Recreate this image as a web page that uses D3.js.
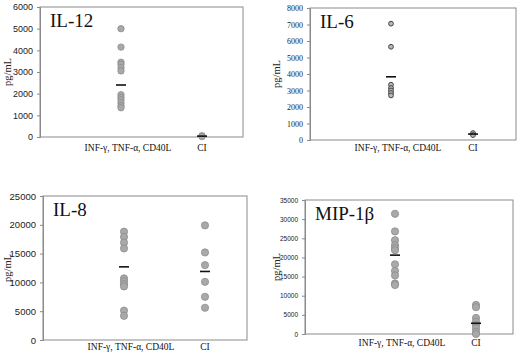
<!DOCTYPE html>
<html>
<head>
<meta charset="utf-8">
<script src="https://cdn.jsdelivr.net/npm/d3@7"></script>
<style>
  body { margin: 0; background: #fff; }
  svg { display: block; }
</style>
</head>
<body>
<svg width="520" height="354"></svg>
<script>
(function () {

  // categories on the x axis (same for every panel)
  var categories = ['INF-γ, TNF-α, CD40L', 'CI']

  // panel titles
  var titles = ['IL-12', 'IL-6', 'IL-8', 'MIP-1β']

  // y axis maxima and tick steps
  var yMax = [6000, 8000, 25000, 35000]
  var yStep = [1000, 1000, 5000, 5000]

  // single values, pg/mL
  var il12Stim = [5000, 4150, 3450, 3350, 3200, 3050, 1950, 1830, 1720, 1580, 1440, 1350]
  var il12CI = [60, 20]
  var il6Stim = [7050, 5650, 3350, 3150, 3000, 2850, 2700]
  var il6CI = [420, 300]
  var il8Stim = [18800, 17900, 16900, 15900, 10700, 10200, 9700, 9300, 5100, 4200]
  var il8CI = [19900, 15200, 13000, 10100, 7500, 5600]
  var mipStim = [31400, 26800, 24500, 23200, 22500, 21900, 18200, 16500, 15300, 13200, 12800]
  var mipCI = [7600, 7000, 4200, 3200, 2350, 1500, 600, 0]

  // group means (short black bars)
  var il12Means = [2400, 40]
  var il6Means = [3830, 360]
  var il8Means = [12700, 11900]
  var mipMeans = [20600, 2800]

  var values = [
    [il12Stim, il12CI],
    [il6Stim, il6CI],
    [il8Stim, il8CI],
    [mipStim, mipCI]
  ]
  var means = [il12Means, il6Means, il8Means, mipMeans]

  // where each panel's plot box sits on the page
  var boxes = [
    { x0: 40, x1: 243, y0: 7, y1: 137, sx: [121, 202], r: 3.2, tickFont: '"Liberation Sans", Arial, sans-serif', tickSize: '9px', lx: 7, ly: 151 },
    { x0: 310, x1: 516, y0: 8, y1: 140, sx: [391, 473], r: 2.4, tickFont: '"Liberation Serif", serif', tickSize: '8px', lx: 276, ly: 151 },
    { x0: 43, x1: 247, y0: 196, y1: 340, sx: [124, 205], r: 3.6, tickFont: '"Liberation Sans", Arial, sans-serif', tickSize: '9.5px', lx: 7, ly: 350 },
    { x0: 305, x1: 513, y0: 200, y1: 334, sx: [395, 476], r: 3.6, tickFont: '"Liberation Sans", Arial, sans-serif', tickSize: '6.5px', lx: 276, ly: 346 }
  ]

  var svg = d3.select('svg')

  boxes.forEach(function (b, p) {
    var g = svg.append('g')

    var y = d3.scaleLinear().domain([0, yMax[p]]).range([b.y1, b.y0])
    var x = d3.scaleOrdinal().domain(categories).range(b.sx)

    // plot frame
    g.append('rect')
      .attr('x', b.x0).attr('y', b.y0)
      .attr('width', b.x1 - b.x0).attr('height', b.y1 - b.y0)
      .attr('fill', 'none')
      .attr('stroke', '#8a8a8a')
      .attr('stroke-width', 1)

    // y axis
    var axis = g.append('g')
      .attr('transform', 'translate(' + b.x0 + ',0)')
      .call(d3.axisLeft(y).tickValues(d3.range(0, yMax[p] + 1, yStep[p])).tickSize(3).tickPadding(4).tickFormat(d3.format('d')))
    axis.select('.domain').attr('stroke', '#8a8a8a')
    axis.selectAll('.tick line').attr('stroke', '#8a8a8a')
    axis.selectAll('.tick text')
      .attr('fill', '#222')
      .style('font-family', b.tickFont)
      .style('font-size', b.tickSize)

    // y label
    g.append('text')
      .attr('transform', 'translate(' + b.lx + ',' + ((b.y0 + b.y1) / 2) + ') rotate(-90)')
      .attr('text-anchor', 'middle')
      .attr('dy', '0.35em')
      .style('font-family', '"Liberation Serif", serif')
      .style('font-size', '10.5px')
      .attr('fill', '#222')
      .text('pg/mL')

    // category labels
    g.selectAll('.cat')
      .data(categories)
      .enter().append('text')
      .attr('x', function (d) { return x(d) + (d === 'CI' ? 0 : 7) })
      .attr('y', b.ly)
      .attr('text-anchor', 'middle')
      .style('font-family', '"Liberation Serif", serif')
      .style('font-size', '9.5px')
      .attr('fill', '#111')
      .text(function (d) { return d })

    // title
    g.append('text')
      .attr('x', b.x0 + 10)
      .attr('y', b.y0 + 20)
      .style('font-family', '"Liberation Serif", serif')
      .style('font-size', '19px')
      .attr('fill', '#111')
      .text(titles[p])

    // points
    values[p].forEach(function (vals, c) {
      g.selectAll('.pt' + c)
        .data(vals)
        .enter().append('circle')
        .attr('cx', x(categories[c]))
        .attr('cy', function (d) { return y(d) })
        .attr('r', b.r)
        .attr('fill', p === 1 ? '#b8b8b8' : '#a9a9a9')
        .attr('stroke', p === 1 ? '#444' : '#8c8c8c')
        .attr('stroke-width', p === 1 ? 1 : 0.8)
    })

    // mean bars
    g.selectAll('.mean')
      .data(means[p])
      .enter().append('line')
      .attr('x1', function (d, i) { return x(categories[i]) - 5 })
      .attr('x2', function (d, i) { return x(categories[i]) + 5 })
      .attr('y1', function (d) { return y(d) })
      .attr('y2', function (d) { return y(d) })
      .attr('stroke', '#111')
      .attr('stroke-width', 1.6)
  })

})()
</script>
</body>
</html>
